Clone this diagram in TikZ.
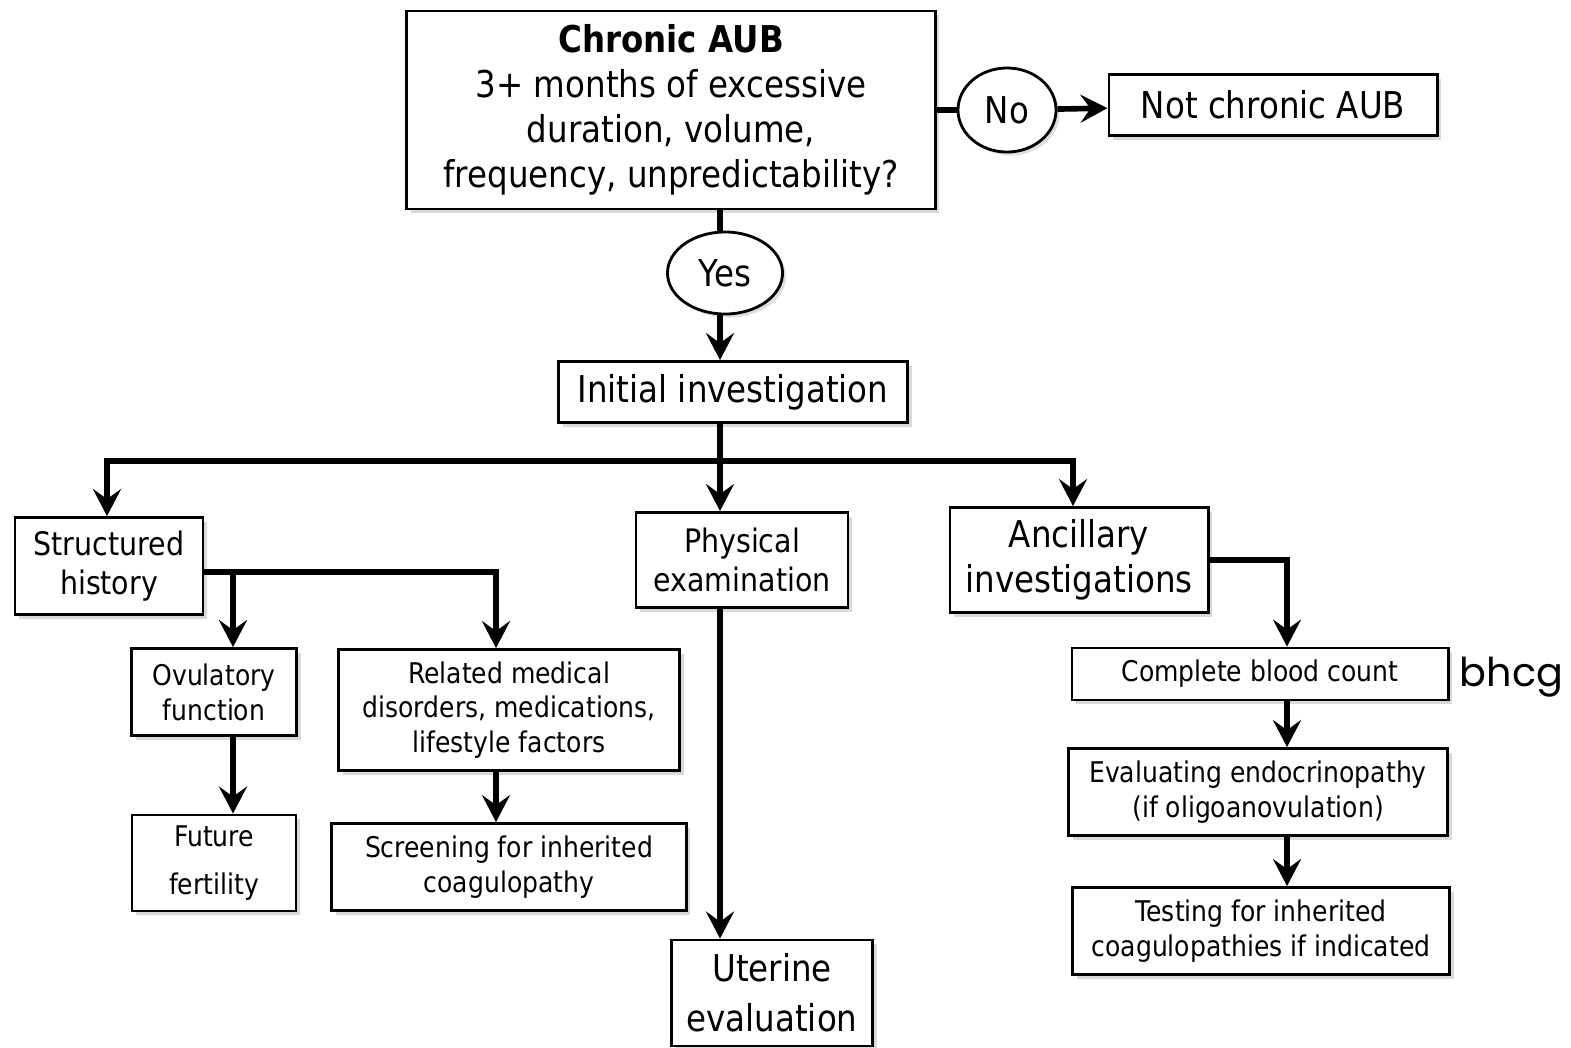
\documentclass[tikz,border=0pt]{standalone}
\usepackage{fontspec}
\setmainfont{DejaVu Sans}[FakeStretch=0.88]
\newfontfamily\notefont{Poppins}
\usetikzlibrary{arrows.meta,shapes.geometric,shadows}

\begin{document}
\begin{tikzpicture}[x=0.01cm, y=-0.01cm,
      every node/.style={font=\fontsize{10.5}{12.8}\selectfont},
      box/.style={rectangle, draw=black, line width=0.8pt, fill=white, align=center, inner sep=2pt,
        drop shadow={shadow xshift=1.2pt, shadow yshift=-1.2pt, opacity=0.3}},
      bigbox/.style={box},
      midbox/.style={box, font=\fontsize{9.2}{11.2}\selectfont},
      smallbox/.style={box, font=\fontsize{8.1}{9.9}\selectfont},
      answer/.style={ellipse, draw=black, line width=0.8pt, fill=white, inner sep=0pt,
        drop shadow={shadow xshift=1pt, shadow yshift=-1pt, opacity=0.25}},
      link/.style={line width=1.6pt},
      flow/.style={link, -{Stealth[length=0.27cm, width=0.28cm, inset=0.1cm]}}
  ]
    \useasboundingbox (0,0) rectangle (1571,1047);

    \node[bigbox, minimum width=5.28cm, minimum height=1.98cm] (chronic) at (671,110) {\textbf{Chronic AUB}\\3+ months of excessive\\duration, volume,\\frequency, unpredictability?};
    \node[answer, minimum width=0.98cm, minimum height=0.84cm] (no) at (1007,110) {No};
    \node[bigbox, minimum width=3.28cm, minimum height=0.61cm] (notchronic) at (1273,105) {Not chronic AUB};
    \node[answer, minimum width=1.15cm, minimum height=0.82cm] (yes) at (725,273) {Yes};
    \node[bigbox, minimum width=3.49cm, minimum height=0.61cm] (initial) at (733,392) {Initial investigation};

    \node[midbox, minimum width=1.88cm, minimum height=0.97cm] (history) at (109,566) {Structured\\history};
    \node[midbox, minimum width=2.12cm, minimum height=0.95cm] (physical) at (742,560) {Physical\\examination};
    \node[bigbox, minimum width=2.58cm, minimum height=1.05cm] (ancillary) at (1079,560) {Ancillary\\investigations};

    \node[smallbox, minimum width=1.65cm, minimum height=0.87cm] (ovulatory) at (214,692) {Ovulatory\\function};
    \node[smallbox, minimum width=3.41cm, minimum height=1.21cm] (related) at (509,710) {Related medical\\disorders, medications,\\lifestyle factors};
    \node[smallbox, minimum width=1.64cm, minimum height=0.96cm] (future) at (214,863) {Future\\[0.14cm]fertility};
    \node[smallbox, minimum width=3.54cm, minimum height=0.87cm] (screening) at (509,867) {Screening for inherited\\coagulopathy};
    \node[bigbox, minimum width=2.01cm, minimum height=1.06cm] (uterine) at (772,993) {Uterine\\[0.05cm]evaluation};

    \node[smallbox, minimum width=3.76cm, minimum height=0.52cm] (cbc) at (1260,674) {Complete blood count};
    \node[smallbox, minimum width=3.79cm, minimum height=0.87cm] (endo) at (1258,792) {Evaluating endocrinopathy\\(if oligoanovulation)};
    \node[smallbox, minimum width=3.77cm, minimum height=0.87cm] (testing) at (1261,931) {Testing for inherited\\coagulopathies if indicated};
    \node[anchor=west, font=\notefont\fontsize{11.3}{13}\selectfont, inner sep=0pt] (bhcg) at (1459,677) {bhcg};

    \coordinate (stem) at (720,461);
    \coordinate (hfork) at (233,572);
    \coordinate (rcol) at (496,572);
    \coordinate (acol) at (1287,560);

    \draw[link] (chronic.east |- no) -- (no);
    \draw[flow] (no) -- (notchronic);
    \draw[link] (chronic.south -| stem) -- (yes.north -| stem);
    \draw[flow] (yes.south -| stem) -- (initial.north -| stem);
    \draw[link] (initial.south -| stem) -- (stem);
    \draw[flow] (stem) -| ([xshift=-0.02cm]history.north);
    \draw[flow] (stem) -| ([xshift=-0.06cm]ancillary.north);
    \draw[flow] (stem) -- (physical.north -| stem);

    \draw[flow] (history.east |- rcol) -| (related.north -| rcol);
    \draw[flow] (hfork) -- (ovulatory.north -| hfork);
    \draw[flow] (ovulatory.south -| hfork) -- (future.north -| hfork);
    \draw[flow] (related.south -| rcol) -- (screening.north -| rcol);
    \draw[flow] (physical.south -| stem) -- (uterine.north -| stem);

    \draw[flow] (ancillary.east |- acol) -| (cbc.north -| acol);
    \draw[flow] (cbc.south -| acol) -- (endo.north -| acol);
    \draw[flow] (endo.south -| acol) -- (testing.north -| acol);
  \end{tikzpicture}
\end{document}
